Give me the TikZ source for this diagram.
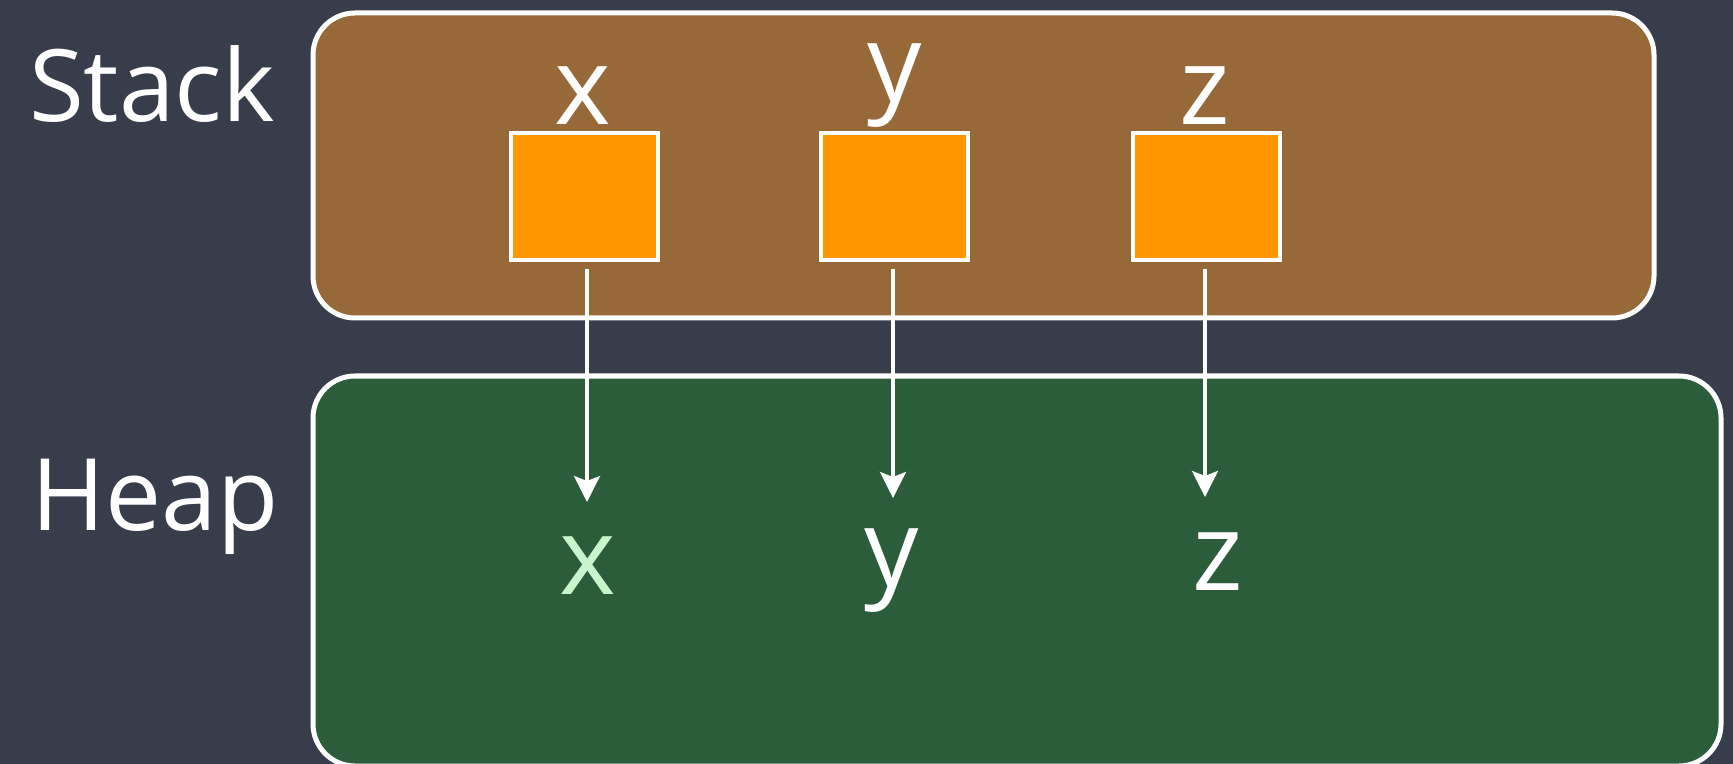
\documentclass[tikz,border=0pt]{standalone}
\usepackage{fontspec}
\setmainfont{Open Sans}
\usetikzlibrary{arrows.meta}
\definecolor{board}{HTML}{373D4A}
\definecolor{stackfill}{HTML}{976939}
\definecolor{heapfill}{HTML}{2B5D3A}
\definecolor{cell}{HTML}{FF9500}
\definecolor{mint}{HTML}{C8F5CC}
\tikzset{
  region/.style={draw=white, line width=2.5pt, rounded corners=21pt, inner sep=0pt},
  cellbox/.style={draw=white, line width=2pt, fill=cell, minimum width=73.5pt, minimum height=63.5pt, inner sep=0pt},
  lbl/.style={text=white, inner sep=0pt, font=\fontsize{54}{60}\selectfont},
  title/.style={text=white, inner sep=0pt, anchor=base, font=\fontsize{50}{56}\selectfont},
  arr/.style={draw=white, line width=1.6pt, -{Stealth[length=13pt,width=13pt,inset=2.5pt]}}
}
\begin{document}
\begin{tikzpicture}[x=0.5pt,y=-0.5pt]
\fill[board] (0,0) rectangle (1733,764);
\useasboundingbox (0,0) rectangle (1733,764);
% regions
\node[region, fill=stackfill, minimum width=670.5pt, minimum height=152.5pt] (stack) at (983.5,165.5) {};
\node[region, fill=heapfill, minimum width=704pt, minimum height=195pt] (heap) at (1017,571) {};
% titles
\node[title] (stacklbl) at (152,122) {Stack};
\node[title] (heaplbl) at (155,530) {Heap};
% stack cells
\node[cellbox] (sx) at (584,196.5) {};
\node[cellbox] (sy) at (894,196.5) {};
\node[cellbox] (sz) at (1206,196.5) {};
\node[lbl] (lx) at (583,96) {x};
\node[lbl] (ly) at (895,86) {y};
\node[lbl] (lz) at (1205,96) {z};
% heap objects
\node[lbl, text=mint] (hx) at (588,566) {x};
\node[lbl] (hy) at (892,571) {y};
\node[lbl] (hz) at (1218,562) {z};
% arrow tips
\coordinate (tx) at (587,502);
\coordinate (ty) at (893,498);
\coordinate (tz) at (1205,497);
\draw[arr] ([xshift=1.5pt,yshift=-3.5pt]sx.south) -- (tx);
\draw[arr] ([xshift=-0.5pt,yshift=-3.5pt]sy.south) -- (ty);
\draw[arr] ([xshift=-0.5pt,yshift=-3.5pt]sz.south) -- (tz);
\end{tikzpicture}
\end{document}
